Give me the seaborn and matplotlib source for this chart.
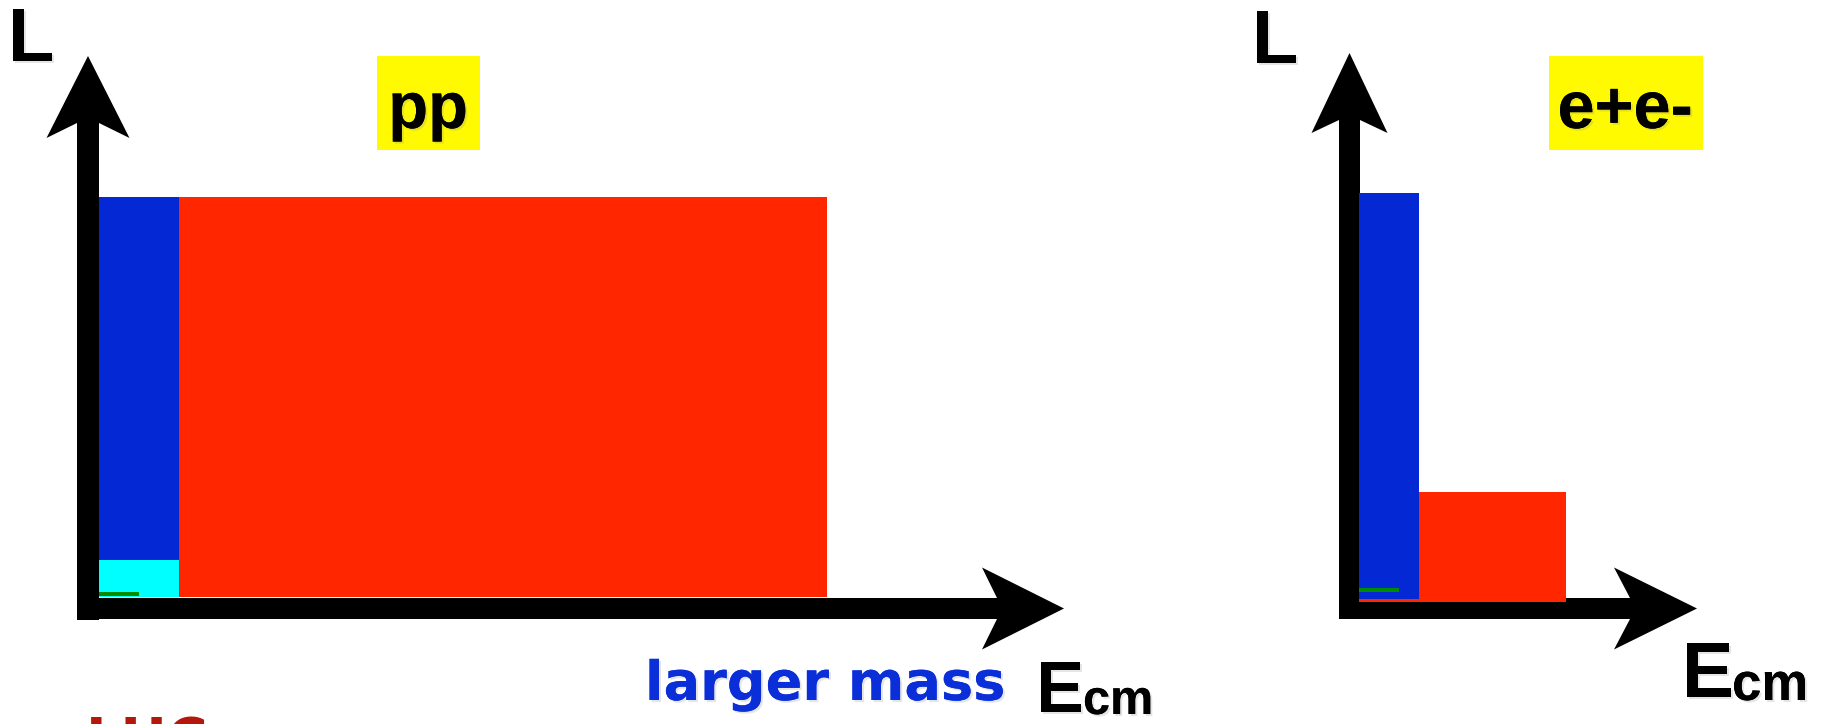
import matplotlib
matplotlib.use("Agg")
import matplotlib.pyplot as plt
import matplotlib.patheffects as pe
from matplotlib.patches import Polygon, Rectangle
import seaborn as sns

# ---------------- data (luminosity vs. energy, arbitrary units) ----------------
pp_bars = ["A", "B", "C", "D"]
pp_left = [0.0, 1.0, 0.0, 0.0]
pp_width = [1.0, 8.1, 1.0, 0.5]
pp_bottom = [0.0, 0.0, 0.0, 0.025]
pp_height = [10.0, 10.0, 0.93, 0.1]

ee_bars = ["A", "B", "C"]
ee_left = [0.0, 0.0, 0.0]
ee_width = [2.59, 0.75, 0.5]
ee_bottom = [0.0, 0.075, 0.25]
ee_height = [2.75, 10.15, 0.1]

pp_title = "pp"
ee_title = "e+e-"
y_label = "L"
x_label = "E"
x_sub = "cm"
note = "larger mass"
bottom_note = "LHC"

# ---------------- styles ----------------
BLUE = "#0429D4"
RED = "#FF2600"
CYAN = "#00FFFF"
GREEN = "#008C00"
YELLOW = "#FFFA00"
pp_colors = [BLUE, RED, CYAN, GREEN]
ee_colors = [RED, BLUE, GREEN]

sns.set_theme(style="white")
plt.rcParams["font.family"] = ["Liberation Sans", "DejaVu Sans"]

W, H = 1821, 724
fig = plt.figure(figsize=(W / 100, H / 100), dpi=100)
fig.patch.set_facecolor("white")

# overlay axes in pixel coordinates for decorations (arrows, labels)
ov = fig.add_axes([0, 0, 1, 1], zorder=0)
ov.set_xlim(0, W)
ov.set_ylim(H, 0)
ov.axis("off")


def px_axes(x0, x1, y_top, y_bot):
    return [x0 / W, (H - y_bot) / H, (x1 - x0) / W, (y_bot - y_top) / H]


# left panel: origin (99, 597), 80 px per x unit, 40 px per y unit
axL = fig.add_axes(px_axes(99, 1064, 56, 597), zorder=1)
axL.set_xlim(0, 965 / 80)
axL.set_ylim(0, 541 / 40)
axL.bar(pp_left, pp_height, width=pp_width, bottom=pp_bottom, align="edge",
        color=pp_colors, linewidth=0)
axL.axis("off")
axL.patch.set_alpha(0)

# right panel: origin (1359, 602)
axR = fig.add_axes(px_axes(1359, 1697, 53, 602), zorder=1)
axR.set_xlim(0, 338 / 80)
axR.set_ylim(0, 549 / 40)
axR.bar(ee_left, ee_height, width=ee_width, bottom=ee_bottom, align="edge",
        color=ee_colors, linewidth=0)
axR.axis("off")
axR.patch.set_alpha(0)


def arrow_up(xc, y_bot, y_tip, sw, hw, hl, notch):
    yc = y_tip + hl
    yn = yc - notch
    pts = [(xc - sw / 2, y_bot), (xc - sw / 2, yn), (xc - hw, yc), (xc, y_tip),
           (xc + hw, yc), (xc + sw / 2, yn), (xc + sw / 2, y_bot)]
    ov.add_patch(Polygon(pts, closed=True, facecolor="black", edgecolor="none"))


def arrow_right(yc, x_left, x_tip, sw, hw, hl, notch):
    xc = x_tip - hl
    xn = xc + notch
    pts = [(x_left, yc - sw / 2), (xn, yc - sw / 2), (xc, yc - hw), (x_tip, yc),
           (xc, yc + hw), (xn, yc + sw / 2), (x_left, yc + sw / 2)]
    ov.add_patch(Polygon(pts, closed=True, facecolor="black", edgecolor="none"))


arrow_up(88, 620, 56, 22, 41.5, 82, 15)
arrow_right(608.5, 77, 1064, 21, 41, 82, 15)
arrow_up(1349.5, 619, 53, 21, 38, 80, 13)
arrow_right(608.5, 1339, 1697, 21, 41, 83, 16)

shadow = [pe.withSimplePatchShadow(offset=(1.5, -1.5), shadow_rgbFace=(0.55, 0.55, 0.55), alpha=0.22),
          pe.Normal()]
bold = dict(fontweight="bold", color="black", path_effects=shadow)

# title boxes
ov.add_patch(Rectangle((377, 56), 103, 94, facecolor=YELLOW, edgecolor="none"))
ov.add_patch(Rectangle((1549, 56), 154, 94, facecolor=YELLOW, edgecolor="none"))
ov.text(428, 128, pp_title, fontsize=47, ha="center", va="baseline", **bold)
ov.text(1625, 128, ee_title, fontsize=48, ha="center", va="baseline", **bold)

# axis labels
ov.text(8, 61, y_label, fontsize=54, ha="left", va="baseline", **bold)
ov.text(1252, 63, y_label, fontsize=54, ha="left", va="baseline", **bold)
ov.text(1036, 712, x_label, fontsize=52, ha="left", va="baseline", **bold)
ov.text(1083, 714, x_sub, fontsize=35, ha="left", va="baseline", **bold)
ov.text(1682, 697, x_label, fontsize=56, ha="left", va="baseline", **bold)
ov.text(1732, 700, x_sub, fontsize=38, ha="left", va="baseline", **bold)

# notes
ov.text(645, 700, note, fontsize=39, ha="left", va="baseline", fontweight="bold",
        color="#0A2FD8", family=["DejaVu Sans"],
        path_effects=[pe.withSimplePatchShadow(offset=(1.5, -1.5), shadow_rgbFace=(0.55, 0.55, 0.55), alpha=0.22),
                      pe.Normal()])
ov.text(86, 757, bottom_note, fontsize=40, ha="left", va="baseline", fontweight="bold",
        color="#B5170B", family=["DejaVu Sans"])

fig.savefig("out.png", dpi=100, facecolor="white")
